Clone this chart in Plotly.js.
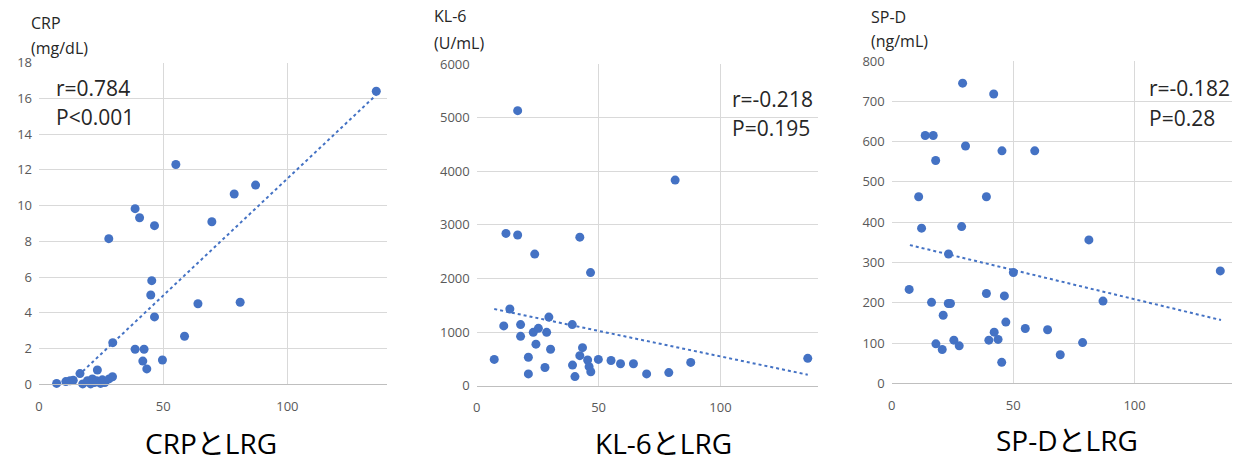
<!DOCTYPE html>
<html>
<head>
<meta charset="utf-8">
<script src="https://cdn.plot.ly/plotly-3.0.1.min.js"></script>
<style>html,body{margin:0;padding:0;background:#fff;}#chart{width:1240px;height:462px;}</style>
</head>
<body>
<div id="chart"></div>
<script>
// ---- Data (LRG on x) ----
const crpLRG = [7.1, 10.8, 12.5, 13.8, 16.5, 17.6, 19.5, 20.8, 21.5, 22.3, 23.5, 23.2, 24.8, 25.5, 26.5, 28.2, 29.6,
                29.7, 28.1, 38.7, 42.3, 41.8, 43.4, 49.7, 45.4, 45.0, 46.5, 58.6, 64.0, 81.0,
                38.7, 40.5, 46.5, 69.6, 55.1, 78.6, 87.2, 135.8];
const crpVal = [0.05, 0.15, 0.2, 0.22, 0.6, 0.02, 0.2, 0.02, 0.3, 0.1, 0.8, 0.2, 0.05, 0.25, 0.1, 0.3, 0.42,
                2.33, 8.15, 1.96, 1.96, 1.3, 0.86, 1.36, 5.8, 5.0, 3.77, 2.69, 4.51, 4.59,
                9.83, 9.32, 8.88, 9.1, 12.3, 10.65, 11.15, 16.4];
const crpTrendX = [7.1, 135.8];
const crpTrendY = [-0.65, 16.2];

const kl6LRG = [7.2, 11.1, 12.0, 13.6, 16.8, 16.8, 18.0, 18.0, 21.2, 21.2, 23.2, 23.8, 24.3, 25.3, 28.0, 28.7, 29.6, 30.3,
                39.2, 39.3, 40.3, 42.3, 42.3, 43.4, 45.5, 46.1, 46.8, 46.7, 49.9, 55.1, 59.0, 64.3, 69.7, 78.8, 81.4, 87.8, 135.8];
const kl6Val = [490, 1115, 2840, 1430, 5130, 2810, 1140, 920, 530, 220, 995, 2455, 775, 1070, 340, 995, 1280, 680,
                1140, 385, 170, 2770, 560, 710, 480, 355, 260, 2110, 490, 470, 410, 410, 220, 245, 3835, 435, 510];
const kl6TrendX = [7.2, 135.8];
const kl6TrendY = [1430, 205];

const spdLRG = [29.2, 42.0, 13.8, 17.1, 30.4, 45.4, 58.9, 18.1, 11.1, 39.0, 12.3, 28.8,
                81.2, 23.4, 50.1, 135.3, 7.2, 39.0, 46.4, 16.4, 23.3, 24.2, 87.0, 21.2, 47.0, 55.0, 64.2,
                42.2, 40.0, 43.8, 25.6, 27.8, 18.2, 20.8, 78.6, 69.4, 45.3];
const spdVal = [745, 718, 615, 615, 589, 577, 577, 553, 463, 463, 385, 389,
                356, 321, 275, 279, 233, 223, 217, 201, 198, 198, 204, 169, 152, 136, 133,
                127, 107, 109, 107, 93, 98, 84, 101, 71, 52];
const spdTrendX = [7.5, 135.6];
const spdTrendY = [343, 157];

// ---- Labels ----
const stats = [["r=0.784", "P<0.001"], ["r=-0.218", "P=0.195"], ["r=-0.182", "P=0.28"]];
const unitTitles = [["CRP", "(mg/dL)"], ["KL-6", "(U/mL)"], ["SP-D", "(ng/mL)"]];
const panelTitles = ["CRPとLRG", "KL-6とLRG", "SP-DとLRG"];

const blue = '#4472C4';
const FONT = '"Open Sans", "Noto Sans CJK JP", sans-serif';
const W = 1240, H = 462;
const px = v => v / W, py = v => 1 - v / H;

function pts(x, y, n) {
  return {x, y, xaxis: 'x' + (n === 1 ? '' : n), yaxis: 'y' + (n === 1 ? '' : n),
    type: 'scatter', mode: 'markers', marker: {color: blue, size: 9}, hoverinfo: 'skip', showlegend: false, cliponaxis: false};
}
function trend(x, y, n) {
  return {x, y, xaxis: 'x' + (n === 1 ? '' : n), yaxis: 'y' + (n === 1 ? '' : n),
    type: 'scatter', mode: 'lines', line: {color: blue, width: 2, dash: 'dot'}, hoverinfo: 'skip', showlegend: false};
}

const data = [
  trend(crpTrendX, crpTrendY, 1), pts(crpLRG, crpVal, 1),
  trend(kl6TrendX, kl6TrendY, 2), pts(kl6LRG, kl6Val, 2),
  trend(spdTrendX, spdTrendY, 3), pts(spdLRG, spdVal, 3)
];

const tickFont = {family: FONT, size: 13, color: '#595959'};
function xax(dom, anchor) {
  return {domain: dom, anchor, range: [0, 140], dtick: 50, tick0: 0, showgrid: true, gridcolor: '#d9d9d9', gridwidth: 1,
    zeroline: false, showline: true, linecolor: '#bfbfbf', linewidth: 1, ticks: '', tickfont: tickFont, ticklabelstandoff: 10};
}
function yax(dom, anchor, max, dt) {
  return {domain: dom, anchor, range: [0, max], dtick: dt, tick0: 0, showgrid: true, gridcolor: '#d9d9d9', gridwidth: 1,
    zeroline: false, showline: false, ticks: '', tickfont: tickFont, ticklabelstandoff: 6};
}

const xd = [[39, 386.7], [476.7, 818], [891.7, 1231.7]];
const yd = [[384.3, 62.7], [385.7, 64], [383.3, 61]];

const layout = {
  width: W, height: H, margin: {l: 0, r: 0, t: 0, b: 0}, paper_bgcolor: '#fff', plot_bgcolor: '#fff',
  font: {family: FONT, color: '#404040'},
  xaxis: xax([px(xd[0][0]), px(xd[0][1])], 'y'),
  yaxis: yax([py(yd[0][0]), py(yd[0][1])], 'x', 18, 2),
  xaxis2: xax([px(xd[1][0]), px(xd[1][1])], 'y2'),
  yaxis2: yax([py(yd[1][0]), py(yd[1][1])], 'x2', 6000, 1000),
  xaxis3: xax([px(xd[2][0]), px(xd[2][1])], 'y3'),
  yaxis3: yax([py(yd[2][0]), py(yd[2][1])], 'x3', 800, 100),
  annotations: []
};

const statPos = [[54, 88, 117], [730, 99, 128], [1146.7, 88, 118]];
const unitPos = [[29, 23, 48], [431.5, 16, 43], [868.5, 17, 41]];
const titlePos = [[211, 443], [663, 443], [1067, 440]];
for (let i = 0; i < 3; i++) {
  stats[i].forEach((t, j) => layout.annotations.push({text: t, xref: 'paper', yref: 'paper', x: px(statPos[i][0]), y: py(statPos[i][1 + j]),
    xanchor: 'left', yanchor: 'middle', showarrow: false, font: {family: FONT, size: 21, color: '#262626'}}));
  unitTitles[i].forEach((t, j) => layout.annotations.push({text: t, xref: 'paper', yref: 'paper', x: px(unitPos[i][0]), y: py(unitPos[i][1 + j]),
    xanchor: 'left', yanchor: 'middle', showarrow: false, font: {family: FONT, size: 16, color: '#262626'}}));
  layout.annotations.push({text: panelTitles[i], xref: 'paper', yref: 'paper', x: px(titlePos[i][0]), y: py(titlePos[i][1]),
    xanchor: 'center', yanchor: 'middle', showarrow: false, font: {family: FONT, size: 28, color: '#000'}});
}

Plotly.newPlot('chart', data, layout, {staticPlot: true, displayModeBar: false});
</script>
</body>
</html>
